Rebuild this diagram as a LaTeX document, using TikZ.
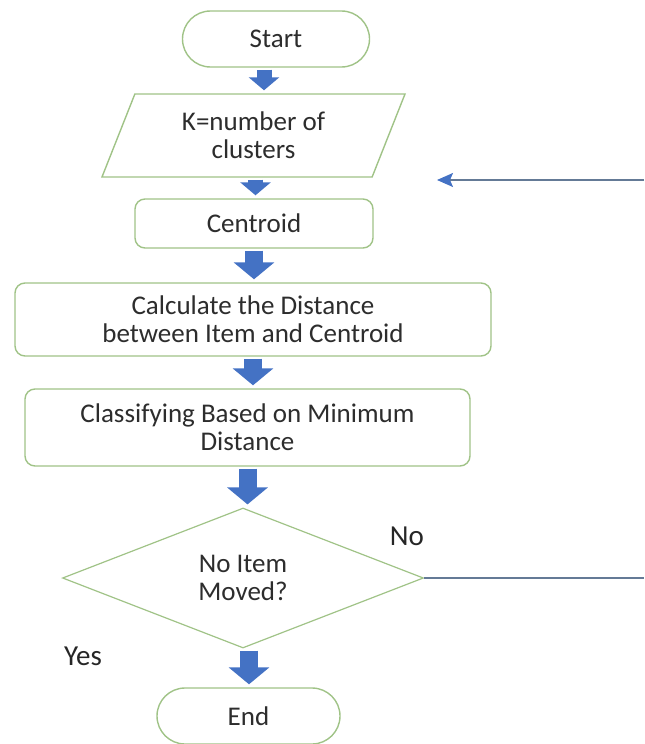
\documentclass[tikz,border=0pt]{standalone}
\usepackage{fontspec}
\setmainfont{Carlito}
\usetikzlibrary{shapes.geometric,arrows.meta}

\definecolor{boxgreen}{RGB}{160,195,135}
\definecolor{flowblue}{RGB}{68,114,196}
\definecolor{loopgrey}{RGB}{100,122,150}
\definecolor{textgrey}{RGB}{45,45,45}

\begin{document}
\begin{tikzpicture}[x=0.5pt,y=-0.5pt,
	box/.style={ draw=boxgreen, line width=0.7pt, fill=white, text=textgrey, align=center, inner sep=0pt, font=\fontsize{13.5}{14}\selectfont },
	terminal/.style={ box, rectangle, rounded corners=14pt, minimum height=28pt },
	io/.style={ box, trapezium, trapezium left angle=55, trapezium right angle=125, trapezium stretches body, minimum width=151.5pt, minimum height=41.5pt },
	process/.style={ box, rectangle, rounded corners=5pt },
	decision/.style={ box, diamond, line width=0.6pt, minimum width=180.5pt, minimum height=70pt },
	answer/.style={ text=black!85, font=\fontsize{14.5}{16}\selectfont },
	flow/.style={ draw=flowblue, line width=7.5pt, shorten <=1pt, shorten >=1.5pt, -{Triangle[width=15pt,length=6.5pt]} },
	flowbig/.style={ flow, line width=9pt, -{Triangle[width=20pt,length=8.5pt]} },
	loopline/.style={ draw=loopgrey, line width=0.8pt }
]
\useasboundingbox (0,0) rectangle (644,744);

\node at (276,39) (start) [terminal, minimum width=93.5pt] {Start};
\node at (253.5,135.5) (k) [io] {K=number of\\clusters};
\node at (254,223.5) (centroid) [process, minimum width=119pt, minimum height=24.5pt] {Centroid};
\node at (253,319.5) (calc) [process, minimum width=238pt, minimum height=36.5pt] {Calculate the Distance\\between Item and Centroid};
\node at (247.5,427.5) (classify) [process, minimum width=222.5pt, minimum height=38.5pt] {Classifying Based on Minimum\\Distance};
\node at (243,578) (moved) [decision] {No Item\\Moved?};
\node at (248.5,716) (end) [terminal, minimum width=91.5pt] {End};

\node at (407,536) (no) [answer] {No};
\node at (83,656) (yes) [answer] {Yes};

\draw[flow] ([xshift=-6pt]start.south) -- ([xshift=-6pt]start.south |- k.north);
\draw[flow] ([xshift=1pt]k.south) -- ([xshift=1pt]k.south |- centroid.north);
\draw[flowbig] (centroid) -- (centroid |- calc.north);
\draw[flowbig] (calc) -- (calc |- classify.north);
\draw[flowbig] (classify) -- (classify |- moved.north);
\draw[flowbig] ([xshift=3pt]moved.south) -- ([xshift=3pt]moved.south |- end.north);

% loop back from the decision
\coordinate (noend) at (644,578);
\coordinate (loopin) at (644,180);
\coordinate (looptip) at (437,180);
\draw[loopline] (moved.east) -- (noend);
\draw[loopline, -{Stealth[length=8pt,width=7pt,inset=1.5pt,color=flowblue]}] (loopin) -- (looptip);

\end{tikzpicture}
\end{document}
